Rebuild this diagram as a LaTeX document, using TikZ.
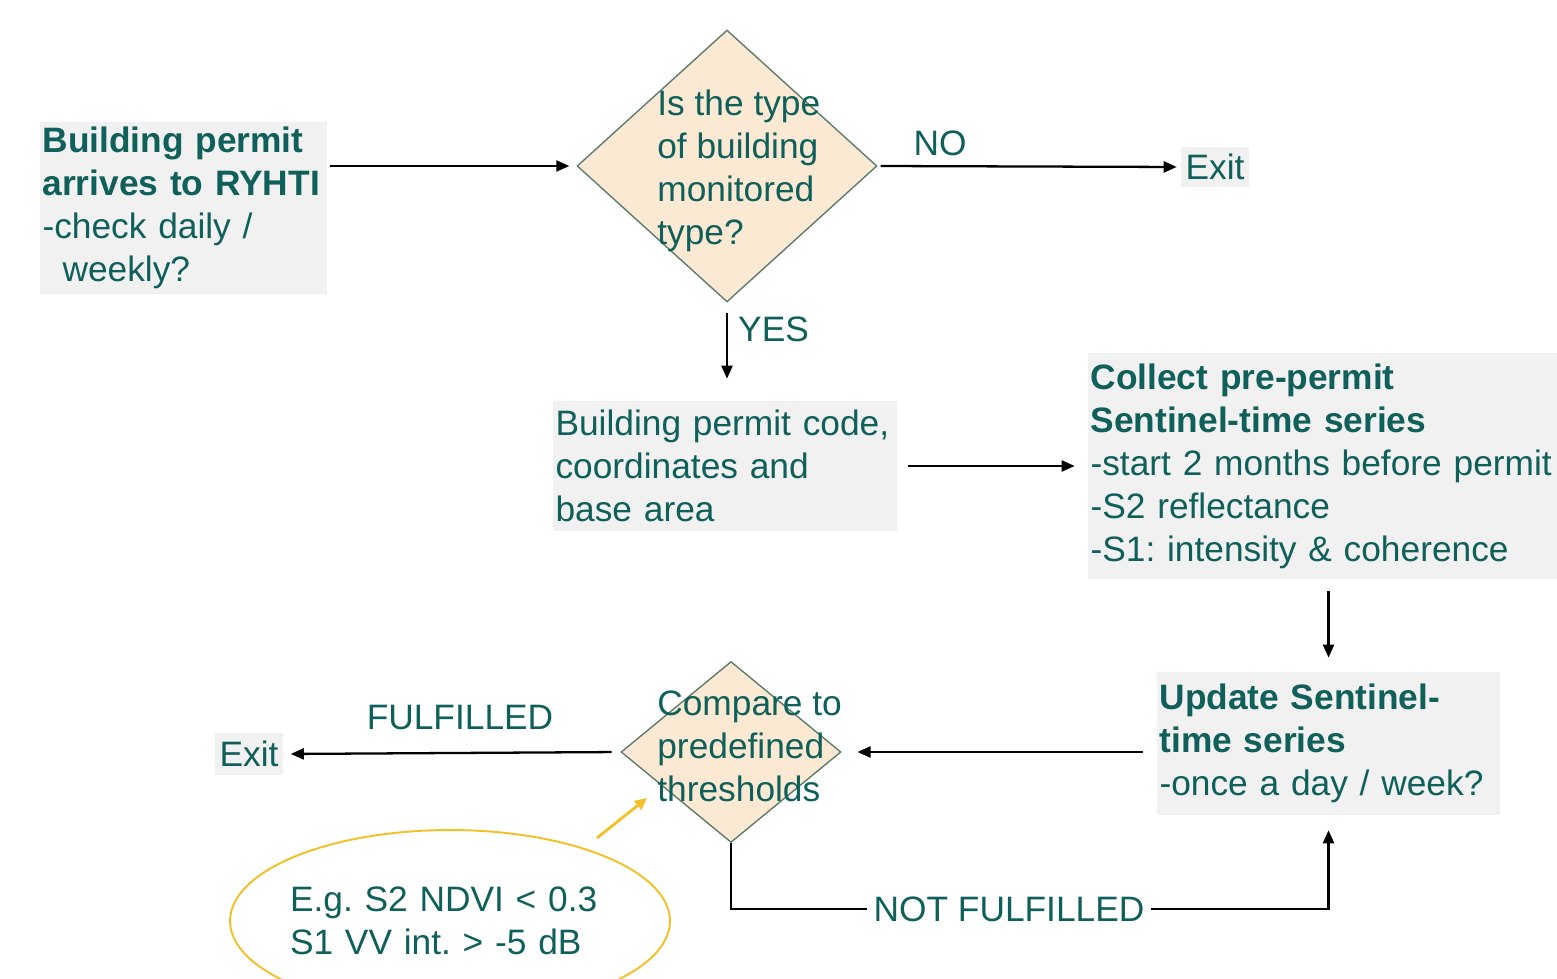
\documentclass[tikz,border=0pt]{standalone}
\usepackage{fontspec}
\setmainfont{Liberation Sans}
\usetikzlibrary{shapes.geometric,arrows.meta,positioning}
\definecolor{tealtext}{RGB}{15,95,90}
\definecolor{boxgrey}{RGB}{241,241,241}
\definecolor{peach}{RGB}{251,233,212}
\definecolor{diamondedge}{RGB}{95,125,110}
\definecolor{hintyellow}{RGB}{244,192,40}
\tikzset{
  % Process box: grey fill, bold heading lines then plain lines, left aligned
  procbox/.style={rectangle, fill=boxgrey, align=left, text=tealtext,
                  inner xsep=0.05cm, inner ysep=0pt, font=\fontsize{20.1}{24.5}\selectfont},
  exitbox/.style={procbox, inner xsep=0.1cm, minimum height=0.8cm},
  % Decision diamond: text is a separate node, it spills over the edges
  decision/.style={diamond, draw=diamondedge, fill=peach, line width=0.8pt, inner sep=0pt},
  decision-text/.style={anchor=west, align=left, text=tealtext, inner sep=0pt,
                        font=\fontsize{20.1}{24.5}\selectfont},
  % Labels on the connectors
  flowlabel/.style={text=tealtext, font=\fontsize{20.1}{24.5}\selectfont},
  % Arrows
  flowarr/.style={-{Triangle[length=2.6mm,width=2.2mm]}, line width=1.3pt},
  % Threshold example: yellow ellipse + pointer
  hintellipse/.style={ellipse, draw=hintyellow, line width=1.1pt, align=left, text=tealtext,
                      inner xsep=-0.15cm, inner ysep=0pt, font=\fontsize{20.1}{24.5}\selectfont},
  hintarr/.style={-{Triangle[length=2.4mm,width=2.2mm]}, draw=hintyellow, line width=1.6pt}
}
\begin{document}
\frenchspacing
\begin{tikzpicture}[x=0.02cm, y=-0.02cm]
\useasboundingbox (0,0) rectangle (1557,979);

% ============== TOP ROW: PERMIT CHECK ==============
\node[procbox, text width=5.64cm, minimum height=3.44cm] (permit) at (183.5,208)
  {\mbox{\textbf{Building permit}}\\\mbox{\textbf{arrives to RYHTI}}\\-check daily /\\\hspace*{0.4cm}weekly?};
\node[decision, minimum width=6cm, minimum height=5.44cm] (typeq) at (727,166) {};
\node[decision-text] (typeqtext) at (657,171) {Is the type\\of building\\monitored\\type?};
\node[exitbox] (exittop) at (1215,167) {Exit};

\draw[flowarr, shorten <=1.7pt, shorten >=4pt] (typeq.west -| permit.east) -- (typeq.west);
\draw[flowarr, shorten <=1.7pt, shorten >=2pt] (typeq.east) -- (exittop.west);
\node[flowlabel] (nolbl) at (940,143) {NO};

% ============== MIDDLE ROW: DATA COLLECTION ==============
\node[procbox, text width=6.78cm, minimum height=2.6cm] (code) at (725,466)
  {\mbox{Building permit code,}\\coordinates and\\base area};
\node[procbox, text width=9.28cm, minimum height=4.52cm] (collect) at (1322.5,466)
  {\textbf{Collect pre-permit}\\\textbf{Sentinel-time series}\\\mbox{-start 2 months before permit}\\-S2 reflectance\\-S1: intensity \& coherence};

\draw[flowarr, shorten <=5.7pt, shorten >=12.5pt] (typeq.south) -- (typeq.south |- code.north);
\node[flowlabel, anchor=west] (yeslbl) at (732,329) {YES};
\draw[flowarr, shorten <=6.2pt, shorten >=7.4pt] (code.east) -- (collect.west);

% ============== BOTTOM ROW: MONITORING LOOP ==============
\node[procbox, text width=6.76cm, minimum height=2.86cm] (update) at (1328.5,743.5)
  {\textbf{Update Sentinel-}\\\textbf{time series}\\-once a day / week?};
\node[decision, minimum width=4.4cm, minimum height=3.62cm] (compare) at (731,752) {};
\node[decision-text] (comparetext) at (657,746) {Compare to\\predefined\\thresholds};
\node[exitbox, minimum width=1.36cm, minimum height=0.84cm] (exitbot) at (249,754) {Exit};

\draw[flowarr, shorten <=6.8pt, shorten >=8pt] (collect.south -| update.north) -- (update.north);
\draw[flowarr, shorten <=8pt, shorten >=9pt] (update.west |- compare.east) -- (compare.east);
\draw[flowarr, shorten <=5pt, shorten >=4pt] (compare.west) -- (exitbot.east);
\node[flowlabel] (fullbl) at (460,718) {FULFILLED};

\node[flowlabel] (notful) at (1009,909) {NOT FULFILLED};
\draw[line width=1.3pt] (compare.south) |- (notful.west);
\draw[flowarr, shorten >=8.5pt] (notful.east) -| (update.south);

% ============== THRESHOLD EXAMPLE ==============
\node[hintellipse, text width=6.4cm, minimum width=8.8cm, minimum height=3.64cm] (example) at (450,921)
  {E.g. S2 NDVI < 0.3\\S1 VV int. > -5 dB};
\coordinate (hintfrom) at (597,838);
\coordinate (hintto) at (647,798);
\draw[hintarr] (hintfrom) -- (hintto);

\end{tikzpicture}
\end{document}
